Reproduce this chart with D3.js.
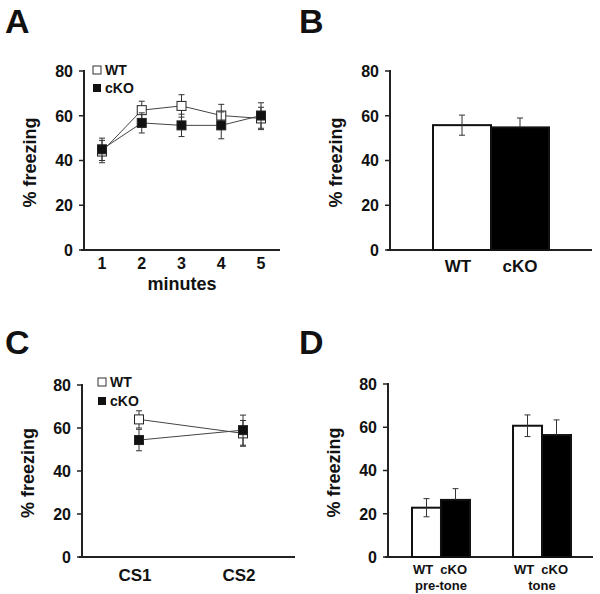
<!DOCTYPE html>
<html><head><meta charset="utf-8">
<script src="https://cdn.jsdelivr.net/npm/d3@7"></script>
<style>
body{margin:0;background:#fff;}
text{font-family:"Liberation Sans",Arial,sans-serif;font-weight:bold;fill:#111;}
</style></head><body>
<svg id="c" width="600" height="594"></svg>
<script>
// Panel A: freezing per minute
const minutes = [1, 2, 3, 4, 5];
const aWT = [44, 62.5, 64.4, 60.1, 58.8];
const aWTerr = [5, 4, 5, 5, 5];
const aKO = [45, 56.8, 55.7, 55.7, 60.1];
const aKOerr = [5, 4.5, 5, 6, 5.7];
// Panel B: bars
const bCats = ["WT", "cKO"];
const bVals = [55.8, 54.8];
const bErr = [4.5, 4.2];
// Panel C: CS trials
const csCats = ["CS1", "CS2"];
const cWT = [64, 57.5];
const cWTerr = [4, 6];
const cKO = [54.4, 59];
const cKOerr = [5, 7];
// Panel D: grouped bars
const dGroups = ["pre-tone", "tone"];
const dWT = [22.8, 60.7];
const dWTerr = [4.2, 5];
const dKO = [26.4, 56.4];
const dKOerr = [5.2, 7];
const yTicks = [0, 20, 40, 60, 80];
const panelLetters = ["A", "B", "C", "D"];

const svg = d3.select("#c");
const AX = "#222";

function yAxisPanel(g, y, x0, x1) {
  g.append("line").attr("x1", x0).attr("x2", x0).attr("y1", y(80) - 1).attr("y2", y(0) + 1)
    .attr("stroke", AX).attr("stroke-width", 2);
  g.append("line").attr("x1", x0 - 3).attr("x2", x1).attr("y1", y(0)).attr("y2", y(0))
    .attr("stroke", AX).attr("stroke-width", 2);
  yTicks.forEach(t => {
    g.append("line").attr("x1", x0 - 5).attr("x2", x0).attr("y1", y(t)).attr("y2", y(t))
      .attr("stroke", AX).attr("stroke-width", 1.5);
    g.append("text").attr("x", x0 - 11).attr("y", y(t)).attr("dy", "0.36em")
      .attr("text-anchor", "end").style("font-size", "16px").text(t);
  });
  g.append("text").attr("transform", `translate(${x0 - 54},${(y(0) + y(80)) / 2 + 2}) rotate(-90)`)
    .attr("text-anchor", "middle").attr("dy", "0.35em").style("font-size", "18px").text("% freezing");
}

function errBar(g, x, v, e, y, dir) {
  const top = dir >= 0 ? y(v + e) : y(v);
  const bot = dir <= 0 ? y(v - e) : y(v);
  g.append("line").attr("x1", x).attr("x2", x).attr("y1", top).attr("y2", bot).attr("stroke", "#333").attr("stroke-width", 1);
  if (dir >= 0) g.append("line").attr("x1", x - 3).attr("x2", x + 3).attr("y1", top).attr("y2", top).attr("stroke", "#333").attr("stroke-width", 1);
  if (dir <= 0) g.append("line").attr("x1", x - 3).attr("x2", x + 3).attr("y1", bot).attr("y2", bot).attr("stroke", "#333").attr("stroke-width", 1);
}

function legend(g, x, y1, y2) {
  g.append("rect").attr("x", x - 4).attr("y", y1 - 4).attr("width", 8).attr("height", 8)
    .attr("fill", "#fff").attr("stroke", "#333").attr("stroke-width", 1);
  g.append("text").attr("x", x + 8).attr("y", y1).attr("dy", "0.36em").style("font-size", "14px").text("WT");
  g.append("rect").attr("x", x - 4).attr("y", y2 - 4).attr("width", 8).attr("height", 8).attr("fill", "#111");
  g.append("text").attr("x", x + 8).attr("y", y2).attr("dy", "0.36em").style("font-size", "14px").text("cKO");
}

function lineSeries(g, xs, vals, errs, x, y, fill) {
  const line = d3.line().x((d, i) => x(xs[i])).y(d => y(d));
  g.append("path").attr("d", line(vals)).attr("fill", "none").attr("stroke", "#444").attr("stroke-width", 1);
  vals.forEach((v, i) => errBar(g, x(xs[i]), v, errs[i], y, 0));
  g.selectAll(null).data(vals).enter().append("rect")
    .attr("x", (d, i) => x(xs[i]) - 4.5).attr("y", d => y(d) - 4.5)
    .attr("width", 9).attr("height", 9)
    .attr("fill", fill).attr("stroke", "#222").attr("stroke-width", 1);
}

// panel letters
[[5, 33], [299, 33], [5, 354], [299, 354]].forEach((p, i) => {
  svg.append("text").attr("x", p[0]).attr("y", p[1]).style("font-size", "34px").text(panelLetters[i]);
});

// ---- Panel A
{
  const g = svg.append("g");
  const y = d3.scaleLinear().domain([0, 80]).range([250, 71]);
  const x = d3.scaleLinear().domain([1, 5]).range([102, 261]);
  yAxisPanel(g, y, 84, 280);
  minutes.forEach(m => g.append("text").attr("x", x(m)).attr("y", 269).attr("text-anchor", "middle").style("font-size", "16px").text(m));
  g.append("text").attr("x", 182).attr("y", 290).attr("text-anchor", "middle").style("font-size", "18px").text("minutes");
  lineSeries(g, minutes, aWT, aWTerr, x, y, "#fff");
  lineSeries(g, minutes, aKO, aKOerr, x, y, "#111");
  legend(g, 97, 70, 88);
}

// ---- Panel B
{
  const g = svg.append("g");
  const y = d3.scaleLinear().domain([0, 80]).range([250, 71]);
  const x = d3.scaleBand().domain(bCats).range([433, 549]).padding(0);
  yAxisPanel(g, y, 390, 592);
  bCats.forEach((c, i) => {
    g.append("rect").attr("x", x(c)).attr("y", y(bVals[i])).attr("width", x.bandwidth()).attr("height", y(0) - y(bVals[i]))
      .attr("fill", i ? "#000" : "#fff").attr("stroke", "#111").attr("stroke-width", 2);
    errBar(g, x(c) + x.bandwidth() / 2, bVals[i], bErr[i], y, i ? 1 : 0);
  });
  g.append("text").attr("x", 458).attr("y", 272).attr("text-anchor", "middle").style("font-size", "17px").text("WT");
  g.append("text").attr("x", 520).attr("y", 272).attr("text-anchor", "middle").style("font-size", "17px").text("cKO");
}

// ---- Panel C
{
  const g = svg.append("g");
  const y = d3.scaleLinear().domain([0, 80]).range([557, 385]);
  const x = d3.scalePoint().domain(csCats).range([139, 243]);
  yAxisPanel(g, y, 82, 295);
  csCats.forEach(c => g.append("text").attr("x", x(c) - 4).attr("y", 581).attr("text-anchor", "middle").style("font-size", "17px").text(c));
  lineSeries(g, csCats, cWT, cWTerr, x, y, "#fff");
  lineSeries(g, csCats, cKO, cKOerr, x, y, "#111");
  legend(g, 102, 382, 401);
}

// ---- Panel D
{
  const g = svg.append("g");
  const y = d3.scaleLinear().domain([0, 80]).range([557, 384]);
  const x0 = d3.scaleBand().domain(dGroups).range([412, 571]).paddingInner(0.426);
  const x1 = d3.scaleBand().domain(["WT", "cKO"]).range([0, x0.bandwidth()]);
  yAxisPanel(g, y, 388, 593);
  dGroups.forEach((gr, gi) => {
    [[dWT, dWTerr, "#fff", "WT"], [dKO, dKOerr, "#000", "cKO"]].forEach(([vals, errs, fill, k], si) => {
      const v = vals[gi];
      const bx = x0(gr) + x1(k);
      g.append("rect").attr("x", bx).attr("y", y(v)).attr("width", x1.bandwidth()).attr("height", y(0) - y(v))
        .attr("fill", fill).attr("stroke", "#111").attr("stroke-width", 2);
      errBar(g, bx + x1.bandwidth() / 2, v, errs[gi], y, si ? 1 : 0);
    });
    const cx = x0(gr) + x0.bandwidth() / 2;
    g.append("text").attr("x", cx - 1).attr("y", 574).attr("text-anchor", "middle").style("font-size", "13px")
      .attr("xml:space", "preserve").text("WT  cKO");
    g.append("text").attr("x", cx).attr("y", 590).attr("text-anchor", "middle").style("font-size", "13px").text(gr);
  });
}
</script></body></html>
